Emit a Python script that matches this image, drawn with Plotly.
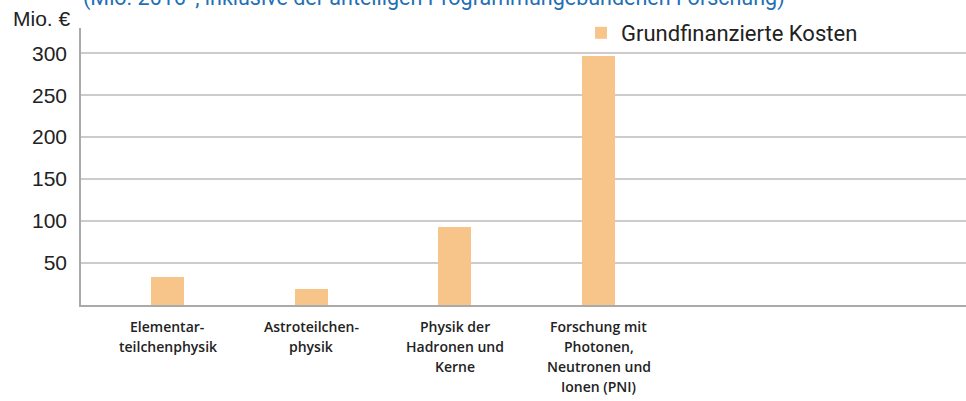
import plotly.graph_objects as go

categories = [
    "Elementar-<br>teilchenphysik",
    "Astroteilchen-<br>physik",
    "Physik der<br>Hadronen und<br>Kerne",
    "Forschung mit<br>Photonen,<br>Neutronen und<br>Ionen (PNI)",
]
values = [33, 19, 93, 297]
series_name = "Grundfinanzierte Kosten"
y_ticks = [50, 100, 150, 200, 250, 300]
subtitle = "(Mio. 2016*, inklusive der anteiligen Programmungebundenen Forschung)"
unit_label = "Mio. €"

xpos = list(range(len(categories)))

fig = go.Figure()
fig.add_trace(go.Bar(
    x=xpos, y=values, name=series_name,
    marker=dict(color="#F7C589", line=dict(width=0)),
    width=0.23,
))

fig.update_layout(
    width=966, height=401,
    margin=dict(l=81, r=0, t=28, b=96, autoexpand=False),
    paper_bgcolor="white", plot_bgcolor="white",
    showlegend=True,
    legend=dict(
        x=0.565, y=0.982, xanchor="left", yanchor="middle",
        font=dict(family="Roboto", size=22, color="#222"),
        bgcolor="rgba(0,0,0,0)", itemwidth=30,
    ),
    xaxis=dict(
        range=[-0.602, 5.557],
        tickmode="array", tickvals=xpos, ticktext=[""] * len(xpos),
        showgrid=False, zeroline=False, automargin=False,
        showline=True, linecolor="#aaaaaa", linewidth=2,
        ticks="",
    ),
    yaxis=dict(
        range=[0, 330],
        tickmode="array", tickvals=y_ticks,
        showgrid=True, gridcolor="#cccccc", gridwidth=1.5,
        zeroline=False, automargin=False,
        showline=True, linecolor="#aaaaaa", linewidth=1.5,
        ticks="", ticklabelstandoff=8,
        tickfont=dict(family="Liberation Sans", size=21, color="#222"),
    ),
    bargap=0,
)

# category labels, one line per annotation for the reference's wide line spacing
for xp, label in zip(xpos, categories):
    for i, line in enumerate(label.split("<br>")):
        fig.add_annotation(
            text=line, x=xp, xref="x", yref="paper", y=0,
            xanchor="center", yanchor="middle", yshift=-(21 + 20 * i),
            showarrow=False,
            font=dict(family="Open Sans", size=14, color="#222", weight=600),
        )

fig.add_annotation(
    text=unit_label, xref="paper", yref="paper", x=0, xshift=-8, y=1.0, yshift=-4,
    xanchor="right", yanchor="bottom", showarrow=False,
    font=dict(family="Liberation Sans", size=21, color="#222"),
)
fig.add_annotation(
    text=subtitle, xref="paper", yref="paper", x=0.0, xshift=0, y=1.0, yshift=15,
    xanchor="left", yanchor="bottom", showarrow=False,
    font=dict(family="Roboto", size=21.5, color="#1f70b4"),
)

fig.write_html(
    "out.html",
    config={"displayModeBar": False},
    post_script="document.body.style.margin='0';document.body.style.overflow='hidden';",
)
